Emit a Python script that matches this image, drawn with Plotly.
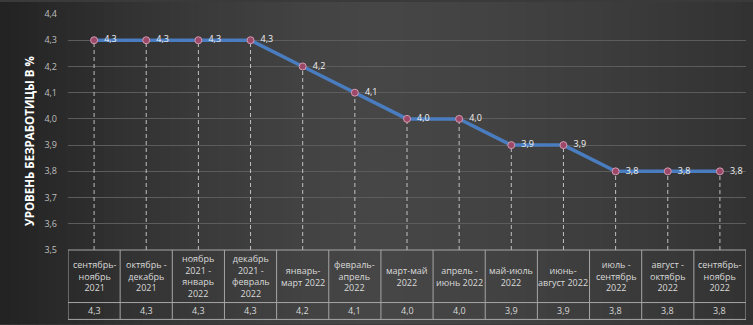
import plotly.graph_objects as go

categories = [
    "сентябрь-<br>ноябрь<br>2021",
    "октябрь -<br>декабрь<br>2021",
    "ноябрь<br>2021 -<br>январь<br>2022",
    "декабрь<br>2021 -<br>февраль<br>2022",
    "январь-<br>март 2022",
    "февраль-<br>апрель<br>2022",
    "март-май<br>2022",
    "апрель -<br>июнь 2022",
    "май-июль<br>2022",
    "июнь-<br>август 2022",
    "июль -<br>сентябрь<br>2022",
    "август -<br>октябрь<br>2022",
    "сентябрь-<br>ноябрь<br>2022",
]
values = [4.3, 4.3, 4.3, 4.3, 4.2, 4.1, 4.0, 4.0, 3.9, 3.9, 3.8, 3.8, 3.8]
series_name = "Ряд1"
y_title = "УРОВЕНЬ БЕЗРАБОТИЦЫ В %"
y_min, y_max = 3.5, 4.4

W, H = 753, 325
ML, MR, MT, MB = 68, 7, 12, 75
PW, PH = W - ML - MR, H - MT - MB

def py(px):  # pixel offset below plot bottom -> paper y
    return -px / PH

n = len(values)
xs = list(range(n))
fmt = lambda v: f"{v:.1f}".replace(".", ",")

fig = go.Figure()

# background gradient strips
shapes = []
NS = 80
for k in range(NS):
    t = (k + 0.5) / NS
    if t < 0.5:
        u = (0.5 - t) / 0.5
        b = 70 - 36 * u ** 1.4
    else:
        u = (t - 0.5) / 0.5
        b = 70 - 20 * u ** 1.4
    b = int(round(b))
    x0 = (-ML + k * W / NS) / PW
    x1 = (-ML + (k + 1) * W / NS + 1) / PW
    shapes.append(dict(type="rect", xref="paper", yref="paper", x0=x0, x1=x1,
                       y0=-MB / PH, y1=1 + MT / PH, line=dict(width=0),
                       fillcolor=f"rgb({b},{b},{b})", layer="below"))

# drop lines
dx, dy = [], []
for i, v in zip(xs, values):
    dx += [i, i, None]
    dy += [y_min, v, None]
fig.add_trace(go.Scatter(x=dx, y=dy, mode="lines", hoverinfo="skip",
                         line=dict(color="rgba(225,225,225,0.8)", width=1, dash="4px,3px"),
                         showlegend=False))

fig.add_trace(go.Scatter(
    x=xs, y=values, mode="lines+markers+text", name=series_name,
    line=dict(color="#4a7dbf", width=3.5),
    marker=dict(size=7, color="#9c4868", line=dict(color="#d49ab0", width=1)),
    text=["\u00a0\u00a0" + fmt(v) for v in values], textposition="middle right",
    textfont=dict(color="#f2f2f2", size=9, family="Open Sans"),
    cliponaxis=False, showlegend=False))

# table lines
lc = dict(color="#a6a6a6", width=1)
top, mid, bot = 0, py(53), py(70)
shapes.append(dict(type="line", xref="x", yref="paper", x0=-0.5, x1=n - 0.5, y0=top, y1=top, line=lc))
for yy in (mid, bot):
    shapes.append(dict(type="line", xref="x", yref="paper", x0=-1.0, x1=n - 0.5, y0=yy, y1=yy, line=lc))
for k in range(n + 1):
    shapes.append(dict(type="line", xref="x", yref="paper", x0=k - 0.5, x1=k - 0.5, y0=top, y1=bot, line=lc))
shapes.append(dict(type="line", xref="x", yref="paper", x0=-1.0, x1=-1.0, y0=mid, y1=bot, line=lc))

anns = []
tf = dict(color="#d9d9d9", size=9, family="Open Sans")
for i, c in zip(xs, categories):
    anns.append(dict(x=i, y=(top + mid) / 2, xref="x", yref="paper", text=c, showarrow=False,
                     font=tf, xanchor="center", yanchor="middle", align="center"))
for i, v in zip(xs, values):
    anns.append(dict(x=i, y=(mid + bot) / 2, xref="x", yref="paper", text=fmt(v), showarrow=False,
                     font=tf, xanchor="center", yanchor="middle"))
anns.append(dict(x=-0.75, y=(mid + bot) / 2, xref="x", yref="paper", text=series_name, showarrow=False,
                 font=dict(color="#d9d9d9", size=8.5, family="Open Sans"), xanchor="center", yanchor="middle"))
anns.append(dict(x=(30 - ML) / PW, y=(250 - 140) / PH, xref="paper", yref="paper",
                 text=f"<b>{y_title}</b>", textangle=-90, showarrow=False,
                 font=dict(color="#ffffff", size=11.5, family="Open Sans"),
                 xanchor="center", yanchor="middle"))

fig.update_layout(
    width=W, height=H, margin=dict(l=ML, r=MR, t=MT, b=MB),
    paper_bgcolor="#3a3a3a", plot_bgcolor="rgba(0,0,0,0)",
    separators=", ",
    shapes=shapes, annotations=anns,
    xaxis=dict(range=[-0.5, n - 0.5], showticklabels=False, showgrid=False,
               zeroline=False, showline=False, ticks=""),
    yaxis=dict(range=[y_min, y_max], dtick=0.1, tickformat=".1f",
               showgrid=True, gridcolor="#5c5c5c", gridwidth=1, zeroline=False,
               tickfont=dict(color="#bfbfbf", size=9, family="Open Sans"),
               ticklabelstandoff=10, showline=False),
)

fig.write_html("out.html", config={"displayModeBar": False},
               post_script="document.body.style.margin='0';document.body.style.background='#2a2a2a';")
